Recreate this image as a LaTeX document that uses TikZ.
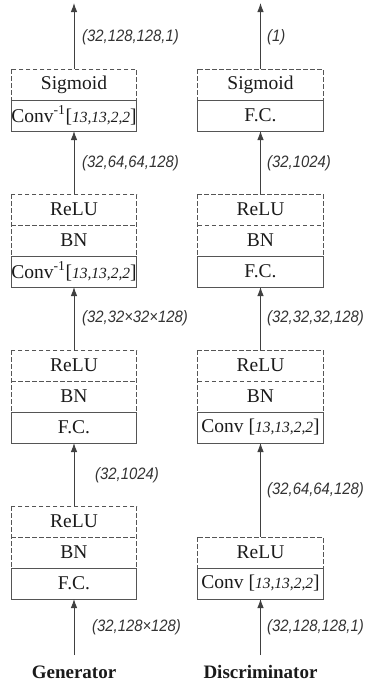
\documentclass[tikz,border=0pt]{standalone}
\usepackage{fontspec}
\setmainfont{Liberation Serif}
\newfontfamily\lblfont[FakeStretch=0.9]{Liberation Sans}
\usetikzlibrary{arrows.meta}
\definecolor{edge}{HTML}{555555}
\definecolor{arrowc}{HTML}{404040}
\definecolor{txt}{HTML}{1A1A1A}
\definecolor{lbl}{HTML}{333333}
\newcommand{\kparams}{[{\fontsize{15.5}{17}\selectfont\itshape 13,13,2,2}]}
\tikzset{
  layer/.style={minimum width=125.5pt, minimum height=31pt, inner sep=0pt, outer sep=0pt,
    font=\fontsize{19.5}{21}\selectfont, text=txt},
  solidlayer/.style={layer, draw=edge, line width=0.9pt},
  dashline/.style={draw=edge, line width=0.9pt, dash pattern=on 4.5pt off 2.5pt},
  flow/.style={draw=arrowc, line width=0.9pt, -{Latex[length=9pt,width=6.5pt]}},
  dimlabel/.style={font=\lblfont\itshape\fontsize{16.5}{17}\selectfont, text=lbl, anchor=west, inner sep=0pt},
  netname/.style={font=\bfseries\fontsize{19}{20}\selectfont, text=txt, inner sep=0pt}
}
\begin{document}
\begin{tikzpicture}[x=1pt,y=-1pt]
\useasboundingbox (0,0) rectangle (366,686);

% ---------------- Generator ----------------
\node[layer, anchor=north] (gsig) at (74,69) {Sigmoid};
\node[solidlayer, anchor=north] (gdc2) at (gsig.south) {Conv\textsuperscript{-1}\kparams};

\node[layer, anchor=north] (g3relu) at (74,194) {ReLU};
\node[layer, anchor=north] (g3bn) at (g3relu.south) {BN};
\node[solidlayer, anchor=north] (gdc1) at (g3bn.south) {Conv\textsuperscript{-1}\kparams};

\node[layer, anchor=north] (g2relu) at (74,350) {ReLU};
\node[layer, anchor=north] (g2bn) at (g2relu.south) {BN};
\node[solidlayer, anchor=north] (gfc2) at (g2bn.south) {F.C.};

\node[layer, anchor=north] (g1relu) at (74,506) {ReLU};
\node[layer, anchor=north] (g1bn) at (g1relu.south) {BN};
\node[solidlayer, anchor=north] (gfc1) at (g1bn.south) {F.C.};

\draw[dashline] (gsig.north west) rectangle (gsig.south east);
\foreach \r/\b in {g3relu/g3bn, g2relu/g2bn, g1relu/g1bn}{
  \draw[dashline] (\r.north west) rectangle (\b.south east);
  \draw[dashline] (\r.south west) -- (\r.south east);
}

\coordinate (gin) at (74,655);
\coordinate (gout) at (74,3);
\draw[flow] (gin) -- (gfc1.south);
\draw[flow] (g1relu.north) -- (gfc2.south);
\draw[flow] (g2relu.north) -- (gdc1.south);
\draw[flow] (g3relu.north) -- (gdc2.south);
\draw[flow] (gsig.north) -- (gout);

\node[dimlabel] (gl5) at (82,37) {(32,128,128,1)};
\node[dimlabel] (gl4) at (82,163) {(32,64,64,128)};
\node[dimlabel] (gl3) at (82,318) {(32,32×32×128)};
\node[dimlabel] (gl2) at (95,475) {(32,1024)};
\node[dimlabel] (gl1) at (92,627) {(32,128×128)};

\node[netname] (gname) at (74,672) {Generator};

% ---------------- Discriminator ----------------
\node[layer, anchor=north] (dsig) at (260.5,69) {Sigmoid};
\node[solidlayer, anchor=north] (dfc2) at (dsig.south) {F.C.};

\node[layer, anchor=north] (d3relu) at (260.5,194) {ReLU};
\node[layer, anchor=north] (d3bn) at (d3relu.south) {BN};
\node[solidlayer, anchor=north] (dfc1) at (d3bn.south) {F.C.};

\node[layer, anchor=north] (d2relu) at (260.5,350) {ReLU};
\node[layer, anchor=north] (d2bn) at (d2relu.south) {BN};
\node[solidlayer, anchor=north] (dcv2) at (d2bn.south) {Conv \kparams};

\node[layer, anchor=north] (d1relu) at (260.5,537) {ReLU};
\node[solidlayer, anchor=north] (dcv1) at (d1relu.south) {Conv \kparams};

\draw[dashline] (dsig.north west) rectangle (dsig.south east);
\draw[dashline] (d1relu.north west) rectangle (d1relu.south east);
\foreach \r/\b in {d3relu/d3bn, d2relu/d2bn}{
  \draw[dashline] (\r.north west) rectangle (\b.south east);
  \draw[dashline] (\r.south west) -- (\r.south east);
}

\coordinate (din) at (260.5,655);
\coordinate (dout) at (260.5,3);
\draw[flow] (din) -- (dcv1.south);
\draw[flow] (d1relu.north) -- (dcv2.south);
\draw[flow] (d2relu.north) -- (dfc1.south);
\draw[flow] (d3relu.north) -- (dfc2.south);
\draw[flow] (dsig.north) -- (dout);

\node[dimlabel] (dl5) at (267,37) {(1)};
\node[dimlabel] (dl4) at (267,163) {(32,1024)};
\node[dimlabel] (dl3) at (267,318) {(32,32,32,128)};
\node[dimlabel] (dl2) at (267,490) {(32,64,64,128)};
\node[dimlabel] (dl1) at (267,627) {(32,128,128,1)};

\node[netname] (dname) at (260.5,672) {Discriminator};
\end{tikzpicture}
\end{document}
